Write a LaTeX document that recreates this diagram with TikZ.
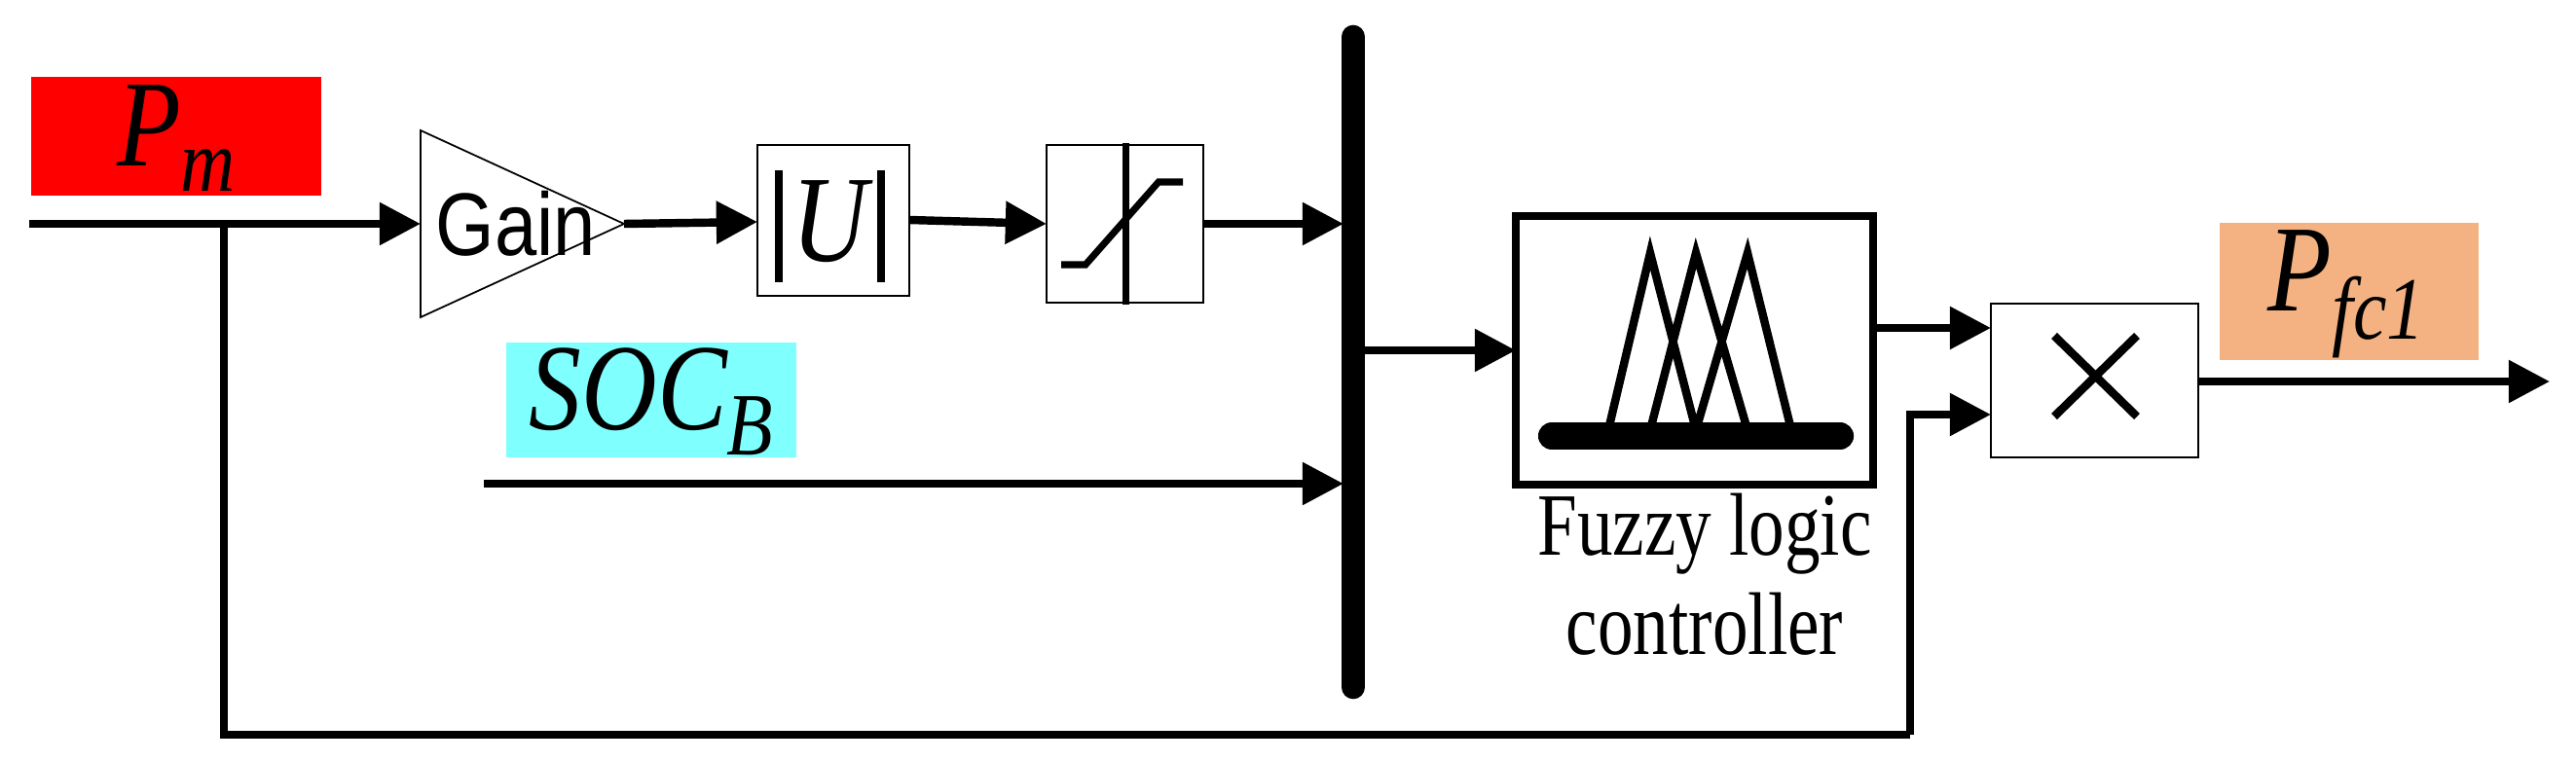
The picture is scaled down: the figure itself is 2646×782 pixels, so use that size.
\documentclass[tikz,border=0pt]{standalone}
\usepackage{fontspec}
\setmainfont{Liberation Serif}
\newfontfamily\sansf{Liberation Sans}
\usetikzlibrary{arrows.meta}
\definecolor{socc}{RGB}{128,255,255}
\definecolor{pfcc}{RGB}{244,178,131}
\begin{document}
\begin{tikzpicture}[x=0.01cm,y=-0.01cm,
  sig/.style={line width=2.4pt,-{Triangle[length=12pt,width=12pt]}},
  wire/.style={line width=2.4pt},
  lbl/.style={xscale=0.85,font=\fontsize{36}{38}\selectfont\itshape}]
\useasboundingbox (0,0) rectangle (2646,782);
% labels
\fill[red] (32,79) rectangle (330,201);
\node[lbl] (pm) at (181,142) {P\raisebox{-0.45ex}{\fontsize{26}{26}\selectfont m}};
\fill[socc] (520,352) rectangle (818,470);
\node[lbl] (soc) at (669,413) {SOC\raisebox{-0.45ex}{\fontsize{26}{26}\selectfont B}};
\fill[pfcc] (2280,229) rectangle (2546,370);
\node[lbl] (pfc) at (2410,302) {P\raisebox{-0.5ex}{\fontsize{26}{26}\selectfont fc1}};
% coordinates
\coordinate (in) at (30,230);
\coordinate (br) at (230,230);
\coordinate (bl) at (230,755);
\coordinate (br2) at (1962,755);
\coordinate (soci) at (497,497);
\coordinate (out) at (2619,392);
% gain
\draw[line width=0.5pt] (432,134) -- (641,230) -- (432,326) -- cycle;
\node[xscale=0.85,font=\sansf\fontsize{26}{28}\selectfont] (gain) at (530,230) {Gain};
\coordinate (gin) at (432,230);
\coordinate (gout) at (641,230);
% abs
\draw[line width=0.4pt] (778,149) rectangle (934,304);
\coordinate (ain) at (778,228);
\coordinate (aout) at (934,226);
\draw[line width=2pt] (800,175) -- (800,290) (905,175) -- (905,290);
\node[lbl] (U) at (852,228) {U};
% saturation
\draw[line width=0.4pt] (1075,149) rectangle (1236,311);
\coordinate (sin) at (1075,230);
\coordinate (sout) at (1236,230);
\draw[line width=2pt] (1156,147) -- (1156,313);
\draw[line width=2pt] (1090,272) -- (1115,272) -- (1190,187) -- (1215,187);
% bus
\draw[line width=7pt,line cap=round] (1390,38) -- (1390,706);
\coordinate (busa) at (1380,230);
\coordinate (busb) at (1380,497);
\coordinate (busout) at (1400,360);
% FLC
\draw[line width=2.2pt] (1557,222) rectangle (1924,498);
\coordinate (fin) at (1557,360);
\coordinate (fout) at (1924,337);
\draw[line width=2.4pt] (1652,442) -- (1695,260) -- (1742,442)
  (1695,442) -- (1742,260) -- (1795,442)
  (1742,442) -- (1795,260) -- (1840,442);
\draw[line width=8pt,line cap=round] (1594,448) -- (1890,448);
\node[xscale=0.8,align=center,font=\fontsize{26}{29}\selectfont] (flc) at (1751,590) {Fuzzy logic\\controller};
% multiply
\draw[line width=0.4pt] (2045,312) rectangle (2258,470);
\coordinate (m1) at (2045,337);
\coordinate (m2) at (2045,426);
\coordinate (mout) at (2258,392);
\draw[line width=2.4pt] (2110,345) -- (2195,428) (2195,345) -- (2110,428);
% connectors
\draw[sig] (in) -- (gin);
\draw[wire] (br) -- (bl) -- (br2);
\draw[sig] (gout) -- (ain);
\draw[sig] (aout) -- (sin);
\draw[sig] (sout) -- (busa);
\draw[sig] (soci) -- (busb);
\draw[sig] (busout) -- (fin);
\draw[sig] (fout) -- (m1);
\draw[sig] (br2) -- (1962,426) -- (m2);
\draw[sig] (mout) -- (out);
\end{tikzpicture}
\end{document}
